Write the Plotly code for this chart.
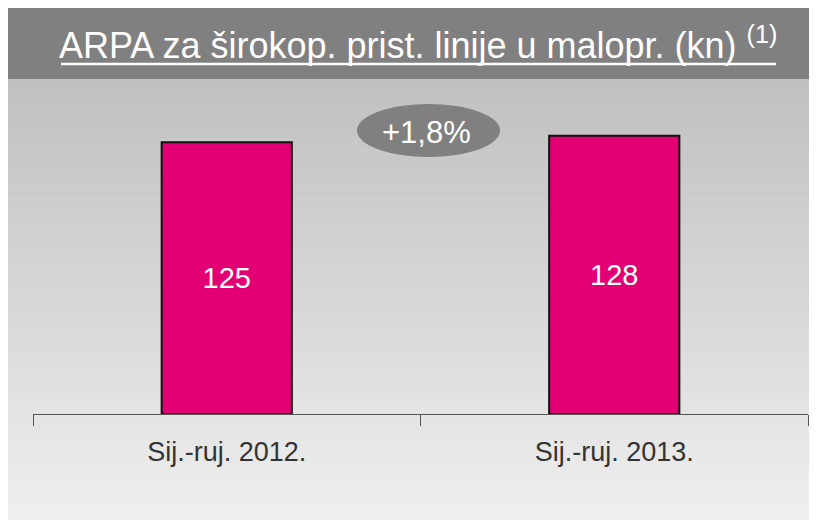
import plotly.graph_objects as go

categories = ["Sij.-ruj. 2012.", "Sij.-ruj. 2013."]
values = [125, 128]
growth_label = "+1,8%"
title_text = "ARPA za širokop. prist. linije u malopr. (kn) <sup>(1)</sup>"

W, H = 817, 520
L, R, T, B = 25, 17, 80, 114
OFF = 8  # page body margin
plot_w = W - L - R
plot_h = H - T - B


def px_x(x):
    # screenshot x -> paper x
    return (x - OFF - L) / plot_w


def px_y(y):
    # screenshot y -> paper y
    return (H - B - (y - OFF)) / plot_h


FONT = "Liberation Sans, Arial, sans-serif"

fig = go.Figure(go.Bar(
    x=categories, y=values, width=0.336,
    marker=dict(color="#e20074", line=dict(color="#111111", width=2)),
    text=[str(v) for v in values], textposition="inside",
    insidetextanchor="middle",
    textfont=dict(color="white", size=29, family=FONT),
    cliponaxis=False,
))

shapes = []
# title band
shapes.append(dict(type="rect", xref="paper", yref="paper", layer="below",
                   x0=px_x(0), x1=px_x(W + 20), y0=px_y(79), y1=px_y(0),
                   fillcolor="#808080", line_width=0))
# gradient background in bands
top, bottom = 79, H + 10
n = 60
c0, c1 = (192, 192, 192), (240, 240, 240)
for i in range(n):
    y0 = top + (bottom - top) * i / n
    y1 = top + (bottom - top) * (i + 1) / n
    t = (i + 0.5) / n
    c = tuple(int(round(a + (b - a) * t)) for a, b in zip(c0, c1))
    shapes.append(dict(type="rect", xref="paper", yref="paper", layer="below",
                       x0=px_x(0), x1=px_x(W + 20), y0=px_y(y1 + 0.5), y1=px_y(y0),
                       fillcolor="rgb(%d,%d,%d)" % c, line_width=0))
# title underline
shapes.append(dict(type="line", xref="paper", yref="paper",
                   x0=px_x(61), x1=px_x(776), y0=px_y(64), y1=px_y(64),
                   line=dict(color="white", width=2.5)))
# growth ellipse
shapes.append(dict(type="circle", xref="paper", yref="paper",
                   x0=px_x(357), x1=px_x(500), y0=px_y(157), y1=px_y(104),
                   fillcolor="#808080", line_width=0))

fig.update_layout(
    width=W, height=H,
    margin=dict(l=L, r=R, t=T, b=B),
    paper_bgcolor="white", plot_bgcolor="rgba(0,0,0,0)",
    showlegend=False,
    shapes=shapes,
    annotations=[
        dict(text=title_text, xref="paper", yref="paper",
             x=px_x(418), y=px_y(43), xanchor="center", yanchor="middle",
             showarrow=False,
             font=dict(color="white", size=36, family=FONT)),
        dict(text=growth_label, xref="paper", yref="paper",
             x=px_x(426), y=px_y(132), xanchor="center", yanchor="middle",
             showarrow=False,
             font=dict(color="white", size=31, family=FONT)),
    ],
)
fig.update_xaxes(
    range=[-0.5, 1.5], showline=True, linecolor="#555555", linewidth=1,
    ticks="outside", tickson="boundaries", ticklen=11, tickcolor="#555555",
    tickfont=dict(size=27, color="#333333", family=FONT),
    ticklabelstandoff=14, showgrid=False,
)
fig.update_yaxes(range=[0, 150], visible=False)

fig.write_html("out.html")
